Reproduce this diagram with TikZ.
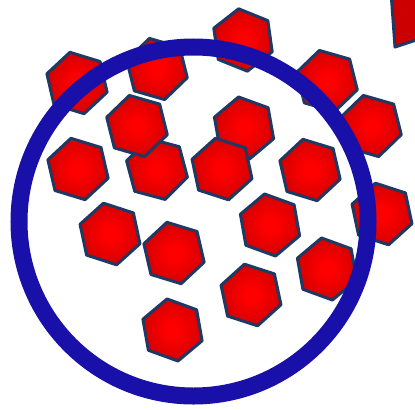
\documentclass[tikz,border=0pt]{standalone}
\usetikzlibrary{shapes.geometric}

\definecolor{ringblue}{RGB}{24,16,168}
\definecolor{hexedge}{RGB}{30,58,100}
\definecolor{hexred}{RGB}{255,0,0}
\definecolor{hexmid}{RGB}{215,0,0}
\definecolor{hexdark}{RGB}{150,0,0}
\definecolor{blobred}{RGB}{204,0,0}
\pgfdeclareradialshading{hexglow}{\pgfpoint{0bp}{0bp}}{%
  color(0bp)=(hexred); color(5bp)=(hexred); color(24bp)=(hexmid); color(42bp)=(hexdark); color(50bp)=(hexdark)}

\begin{document}
\begin{tikzpicture}[
  x=0.5mm, y=-0.5mm,
  hex/.style={regular polygon, regular polygon sides=6, minimum size=31.5mm, inner sep=0pt,
    draw=hexedge, line width=1.5mm, line join=round, shading=hexglow},
  blob/.style={draw=hexedge, line width=1.5mm, line join=round, fill=blobred},
  ring/.style={circle, draw=ringblue, line width=8.5mm, minimum size=174.5mm, inner sep=0pt},
]
% frame (reference is 415 x 409 px, y downwards)
\clip (0,0) rectangle (415,409);

% ---------------- hexagons ----------------
% x / y / rotation (back to front)
\foreach \x/\y/\r [count=\i] in {
    77/83/-17, 157/69/-16, 243/40/-22, 327/81/-16, 371/126/-16,
    244/128/-20, 222/169/-18, 157/169/-15, 137/126/-16, 78/169/-17,
    310/170/-17, 382/214/-18, 110/234/-18, 174/253/-17, 270/225/-20,
    327/269/-20, 251/295/-18, 172.5/330/-20} {
  \node[hex, shape border rotate=\r] (hex\i) at (\x,\y) {};
}

% big shape cut by the top right corner
\draw[blob] (391,-8) -- (395,47) -- (425,37) -- (425,-8) -- cycle;

% ---------------- ring ----------------
\node[ring] (ring) at (193.5,221.5) {};

\end{tikzpicture}
\end{document}
